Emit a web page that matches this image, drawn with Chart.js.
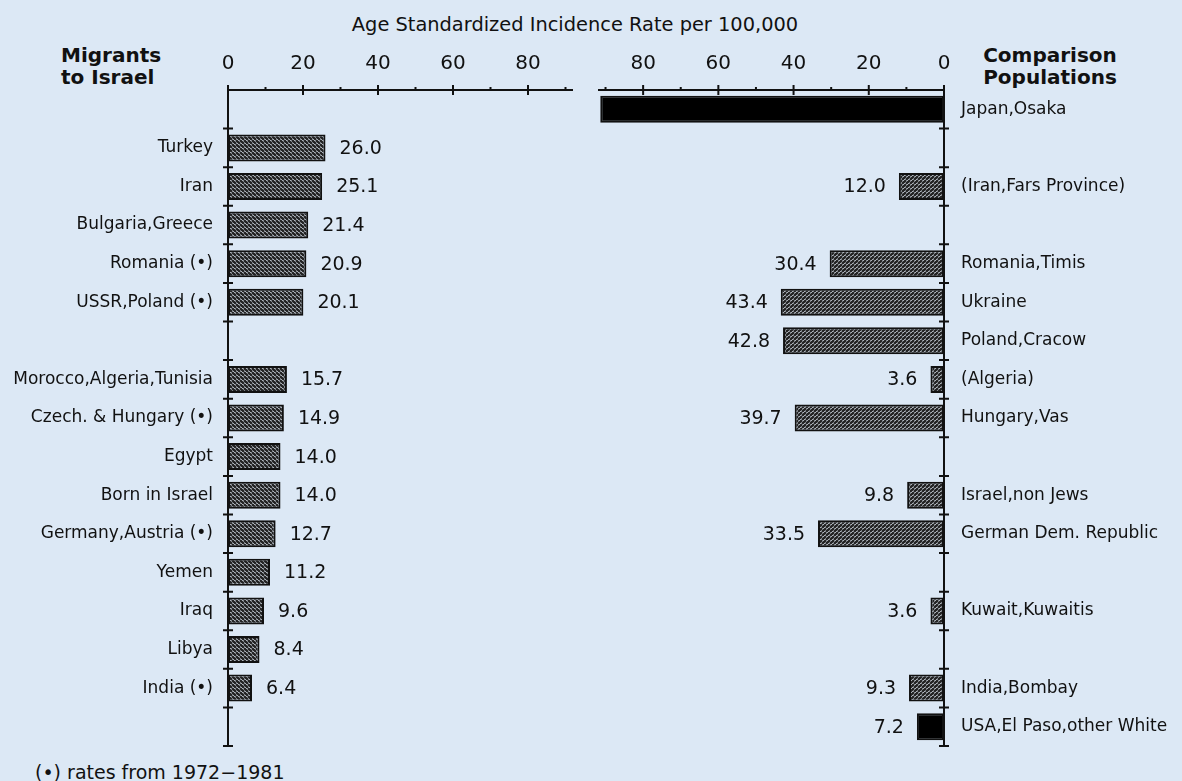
<!DOCTYPE html>
<html>
<head>
<meta charset="utf-8">
<script src="https://cdn.jsdelivr.net/npm/chart.js@4.4.1/dist/chart.umd.min.js"></script>
<style>
  html, body { margin: 0; padding: 0; }
  body {
    width: 1182px; height: 781px; position: relative; overflow: hidden;
    background: #dce8f5; color: #111;
    font-family: 'DejaVu Sans', sans-serif;
  }
  canvas { position: absolute; top: 0; }
  #left { left: 0; }
  #right { left: 590px; }
  .txt { position: absolute; white-space: nowrap; }
  #title { left: 275px; width: 600px; top: 14px; text-align: center; font-size: 19.4px; line-height: 22px; }
  .head { top: 44px; font-size: 20px; font-weight: bold; line-height: 22px; }
  #headL { left: 61px; }
  #headR { left: 950px; width: 200px; text-align: center; }
  #note { left: 35px; top: 761px; font-size: 19px; line-height: 22px; }
</style>
</head>
<body>
<div class="txt" id="title">Age Standardized Incidence Rate per 100,000</div>
<div class="txt head" id="headL">Migrants<br>to Israel</div>
<div class="txt head" id="headR">Comparison<br>Populations</div>
<div class="txt" id="note">(•) rates from 1972−1981</div>
<canvas id="left" width="590" height="781"></canvas>
<canvas id="right" width="592" height="781"></canvas>
<script>
// ---- data (rows top to bottom) ----
const axisMax = 92;
const tickStep = 20;

const migrantLabels = [
  "", "Turkey", "Iran", "Bulgaria,Greece", "Romania (•)", "USSR,Poland (•)", "",
  "Morocco,Algeria,Tunisia", "Czech. & Hungary (•)", "Egypt", "Born in Israel",
  "Germany,Austria (•)", "Yemen", "Iraq", "Libya", "India (•)", ""
];
const migrantRates = [
  null, 26.0, 25.1, 21.4, 20.9, 20.1, null,
  15.7, 14.9, 14.0, 14.0, 12.7, 11.2, 9.6, 8.4, 6.4, null
];

const comparisonLabels = [
  "Japan,Osaka", "", "(Iran,Fars Province)", "", "Romania,Timis", "Ukraine",
  "Poland,Cracow", "(Algeria)", "Hungary,Vas", "", "Israel,non Jews",
  "German Dem. Republic", "", "Kuwait,Kuwaitis", "", "India,Bombay",
  "USA,El Paso,other White"
];
const comparisonRates = [
  91.4, null, 12.0, null, 30.4, 43.4, 42.8, 3.6, 39.7, null, 9.8,
  33.5, null, 3.6, null, 9.3, 7.2
];
const solidPopulations = ["Japan,Osaka", "USA,El Paso,other White"];

Chart.defaults.font.family = "'DejaVu Sans', sans-serif";
Chart.defaults.color = "#111";

// hatch fill, dir "\\" or "/"
function hatch(dir) {
  const n = 4;
  const c = document.createElement("canvas");
  c.width = n; c.height = n;
  const g = c.getContext("2d");
  g.fillStyle = "#d4dce6";
  g.fillRect(0, 0, n, n);
  g.strokeStyle = "#222";
  g.lineWidth = 2.3;
  g.beginPath();
  for (const k of [-n, 0, n]) {
    if (dir === "/") { g.moveTo(k, n); g.lineTo(k + n, 0); }
    else { g.moveTo(k, 0); g.lineTo(k + n, n); }
  }
  g.stroke();
  return g.createPattern(c, "repeat");
}

// axis lines + tick marks (value axis on top, category axis at zero)
const axisMarks = {
  id: "axisMarks",
  afterDatasetsDraw(chart) {
    const { ctx, chartArea: area, scales: { x, y } } = chart;
    const x0 = x.getPixelForValue(0);
    const xEnd = x.getPixelForValue(x.max);
    const top = area.top;
    const step = y.getPixelForValue(1) - y.getPixelForValue(0);
    ctx.save();
    ctx.strokeStyle = "#111";
    ctx.lineWidth = 2;
    ctx.beginPath();
    ctx.moveTo(xEnd, top); ctx.lineTo(x0, top); ctx.lineTo(x0, area.bottom);
    for (let v = 0; v <= x.max; v += tickStep / 2) {
      const px = x.getPixelForValue(v);
      const major = v % tickStep === 0;
      ctx.moveTo(px, top - (major ? 5 : 3));
      ctx.lineTo(px, top + (major ? 5 : 1));
    }
    for (let i = 0; i < chart.data.labels.length; i++) {
      const py = y.getPixelForValue(i) + step / 2;
      ctx.moveTo(x0 - 5, py); ctx.lineTo(x0 + 5, py);
    }
    ctx.stroke();
    ctx.restore();
  }
};

// numbers at the end of each bar
const valueLabels = {
  id: "valueLabels",
  afterDatasetsDraw(chart, args, opts) {
    const { ctx } = chart;
    const meta = chart.getDatasetMeta(0);
    const data = chart.data.datasets[0].data;
    ctx.save();
    ctx.font = "19px 'DejaVu Sans'";
    ctx.fillStyle = "#111";
    ctx.textBaseline = "middle";
    ctx.textAlign = opts.side === "right" ? "left" : "right";
    meta.data.forEach((bar, i) => {
      if (data[i] == null) return;
      const dx = opts.side === "right" ? opts.gap : -opts.gap;
      ctx.fillText(data[i].toFixed(1), bar.x + dx, bar.y + 1);
    });
    ctx.restore();
  }
};

function makePanel(canvasId, labels, values, fills, side) {
  const onLeft = side === "left";
  return new Chart(document.getElementById(canvasId), {
    type: "bar",
    data: {
      labels,
      datasets: [{
        data: values,
        backgroundColor: fills,
        borderColor: "#111",
        borderWidth: 2,
        borderSkipped: false,
        barPercentage: 0.7,
        categoryPercentage: 1,
      }],
    },
    options: {
      indexAxis: "y",
      responsive: false,
      animation: false,
      events: [],
      layout: {
        padding: onLeft
          ? { top: 0, right: 17, bottom: 35, left: 0 }
          : { top: 0, right: 0, bottom: 35, left: 8 },
      },
      plugins: {
        legend: { display: false },
        tooltip: { enabled: false },
        valueLabels: { side: onLeft ? "right" : "left", gap: onLeft ? 14 : 13 },
      },
      scales: {
        x: {
          position: "top",
          reverse: !onLeft,
          min: 0,
          max: axisMax,
          grid: { display: false, drawTicks: false },
          border: { display: false },
          ticks: { stepSize: tickStep, includeBounds: false, padding: 14, font: { size: 20 }, maxRotation: 0 },
          afterFit: (s) => { s.height = 90; },
        },
        y: {
          position: onLeft ? "left" : "right",
          grid: { display: false, drawTicks: false },
          border: { display: false },
          ticks: { padding: onLeft ? 15 : 17, font: { size: 17 }, autoSkip: false },
          afterFit: (s) => { s.width = onLeft ? 228 : 238; },
        },
      },
    },
    plugins: [axisMarks, valueLabels],
  });
}

const hatchL = hatch("\\");
const hatchR = hatch("/");

makePanel("left", migrantLabels, migrantRates, migrantRates.map(() => hatchL), "left");
makePanel("right", comparisonLabels, comparisonRates,
  comparisonLabels.map((l) => (solidPopulations.includes(l) ? "#000" : hatchR)), "right");
</script>
</body>
</html>
